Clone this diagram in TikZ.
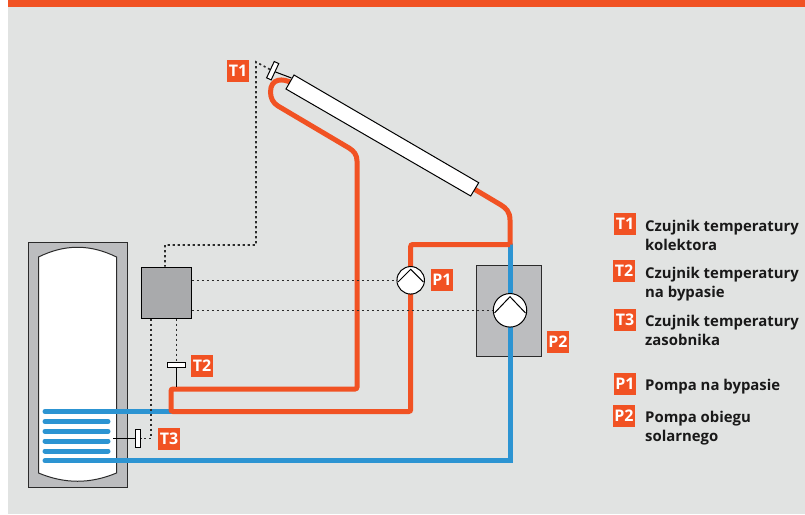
\documentclass[tikz,border=0pt]{standalone}
\usepackage{fontspec}
\setmainfont{Open Sans}
\usepackage{xcolor}
\usetikzlibrary{calc}
\definecolor{bandorange}{HTML}{F15223}
\definecolor{panelgrey}{HTML}{E1E3E2}
\definecolor{pipeblue}{HTML}{2C94D2}
\definecolor{tankgrey}{HTML}{BCBDBF}
\definecolor{boxgrey}{HTML}{A9AAAC}
\definecolor{inkdark}{HTML}{2B2B2B}
\tikzset{
  tag/.style={fill=bandorange,text=white,font=\fontsize{16}{16}\selectfont\bfseries,minimum size=22pt,inner sep=0pt},
  legendtext/.style={anchor=north west,align=left,inner sep=0pt,text=black!90,font=\fontsize{14.9}{19}\selectfont\bfseries},
  hotpipe/.style={draw=bandorange,line width=5pt},
  coldpipe/.style={draw=pipeblue,line width=5pt},
  signal/.style={draw=inkdark,line width=1.6pt,dash pattern=on 2.2pt off 2.8pt},
  outline/.style={draw=inkdark,line width=1pt},
  sensorbox/.style={draw=black,fill=white,line width=1pt,inner sep=0pt,minimum width=18pt,minimum height=5pt},
  pumpbody/.style={circle,draw=black,fill=white,line width=1pt,inner sep=0pt}
}
\begin{document}
\begin{tikzpicture}[x=1pt,y=-1pt]
            \useasboundingbox (0,0) rectangle (805,514);
            \fill[panelgrey] (8,0) rectangle (805,514);
            \fill[bandorange] (8,0) rectangle (805,7);

            \draw[outline,fill=tankgrey] (28,242) rectangle (127,487);
            \draw[outline,fill=white] (38.5,257) .. controls (65,244) and (90,244) .. (116.5,257) -- (116.5,473)
                .. controls (90,484) and (65,484) .. (38.5,473) -- cycle;
            \foreach \y in {421.5,431.3,441,451}
                \draw[coldpipe,line cap=round] (45,\y) -- (108,\y);

            \coordinate (coilin) at (45,411.5);
            \coordinate (coilout) at (45,460.8);
            \coordinate (teeleft) at (171,411.5);
            \coordinate (teeright) at (510,244.5);

            \draw[outline,fill=tankgrey] (476.7,265) rectangle (541.7,356);
            \draw[coldpipe,line cap=round] (coilin) -- (teeleft);
            \draw[coldpipe,line cap=round] (teeright) -- (510,460.8) -- (coilout);

            \draw[hotpipe] (292,83) .. controls (283,78) and (270.5,78) .. (270.5,92)
                .. controls (270.5,98) and (273,103) .. (278,106) -- (349,148)
                .. controls (354,151) and (357,155) .. (357,161)
                [rounded corners=2pt] -- (357,389) -- (171,389) -- (teeleft) -- (410.7,411.5) -- (410.7,244.5) -- (teeright);
            \draw[hotpipe] (teeright) -- (510,220) .. controls (510,212) and (506,208) .. (501,205) -- (475,189.5);

            \draw[outline,draw=black,fill=white] (294,75) -- (478.7,182.7) -- (470.7,196) -- (286,89) -- cycle;
            \coordinate (collectorend) at (291.5,78);

            \node[draw=black,fill=boxgrey,line width=1pt,minimum width=50pt,minimum height=51pt,inner sep=0pt] (ctrl) at (166,292.5) {};

            \node[sensorbox,rotate=65] (sensA) at (272.7,70.7) {};
            \node[sensorbox] (sensB) at (176.5,365.4) {};
            \node[sensorbox,rotate=90] (sensC) at (137.7,438.3) {};
            \coordinate (probeB) at (176.5,387);
            \coordinate (probeC) at (113,438.3);
            \coordinate (bendA) at (256,62);

            \draw[line width=1pt] (sensA.south) -- (collectorend);
            \draw[line width=1pt] (sensB.south) -- (probeB);
            \draw[line width=1pt] (sensC.north) -- (probeC);

            \node[pumpbody,minimum size=27.5pt] (pumpA) at (410.7,280.3) {};
            \node[pumpbody,minimum size=33.5pt] (pumpB) at (510,310.3) {};
            \draw[line width=1pt] (398,282) -- (410.7,269.3) -- (423.4,282);
            \draw[line width=1pt] (494.5,313) -- (510,296.7) -- (525.5,313);

            \draw[signal] (sensA.north) -- (bendA) -- (256,245) -- (165,245) -- (ctrl.north -| 165,0);
            \draw[signal] (pumpA.west -| ctrl.east) -- (pumpA.west);
            \draw[signal] (pumpB.west -| ctrl.east) -- (pumpB.west);
            \draw[signal] (ctrl.south -| sensB) -- (sensB.north);
            \draw[signal] (ctrl.south -| 151,0) -- (151,438.3) -- (sensC.south);

            \node[tag] (tagA) at (238,71) {T1};
            \node[tag] (tagB) at (202,366) {T2};
            \node[tag] (tagC) at (169,439) {T3};
            \node[tag] (tagD) at (442,280) {P1};
            \node[tag] (tagE) at (558,342) {P2};

            \node[tag] (keyA) at (625,224) {T1};
            \node[tag] (keyB) at (624,271) {T2};
            \node[tag] (keyC) at (625,320) {T3};
            \node[tag] (keyD) at (625,384) {P1};
            \node[tag] (keyE) at (624,416) {P2};

            \node[legendtext] (textA) at (645,219.5) {Czujnik temperatury\\kolektora};
            \node[legendtext] (textB) at (645,267) {Czujnik temperatury\\na bypasie};
            \node[legendtext] (textC) at (645,315) {Czujnik temperatury\\zasobnika};
            \node[legendtext] (textD) at (645,379) {Pompa na bypasie};
            \node[legendtext] (textE) at (645,411) {Pompa obiegu\\solarnego};
        \end{tikzpicture}
\end{document}
